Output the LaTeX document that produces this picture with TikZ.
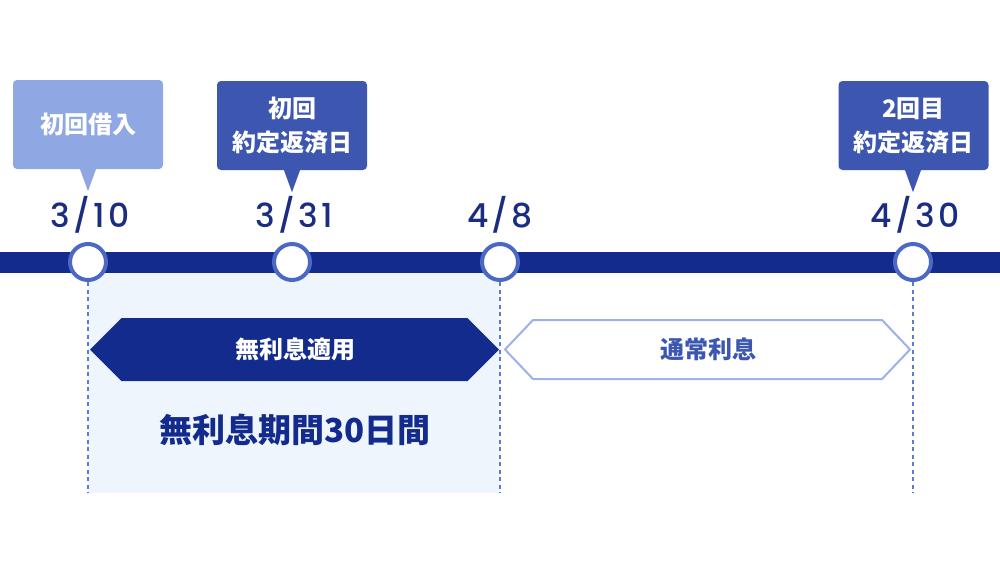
\documentclass[tikz,border=0pt]{standalone}
\usepackage{fontspec}
\newfontfamily\jpfont{Noto Sans CJK JP}
\newfontfamily\datefont{Poppins Medium}[LetterSpace=10]
\definecolor{navy}{RGB}{19,43,140}
\definecolor{datenavy}{RGB}{27,45,128}
\definecolor{ringblue}{RGB}{74,104,196}
\definecolor{boxlight}{RGB}{143,168,227}
\definecolor{boxdark}{RGB}{61,87,176}
\definecolor{shadeblue}{RGB}{238,245,253}
\definecolor{guideblue}{RGB}{91,124,214}
\definecolor{hexline}{RGB}{157,178,234}

\begin{document}
\begin{tikzpicture}[x=1pt, y=-1pt,
	dot/.style={circle, draw=ringblue, line width=4pt, fill=white, minimum size=36pt, inner sep=0pt},
	date/.style={font=\datefont\fontsize{33}{36}\selectfont, text=datenavy},
	callout/.style={rounded corners=4pt, minimum width=150pt, minimum height=89pt, align=center, text=white,
		font=\jpfont\bfseries\fontsize{24}{34}\selectfont},
	tag/.style={font=\jpfont\bfseries\fontsize{24}{28}\selectfont},
	guide/.style={guideblue, line width=2.5pt, dash pattern=on 4pt off 3.5pt}]
	\useasboundingbox[fill=white] (0,0) rectangle (1000,563);
	% free period and time line
	\fill[shadeblue] (88,262) rectangle (500,493);
	\draw[navy, line width=21pt] (0,262) -- (1000,262);
	\node[dot] (d1) at (88,262) {};
	\node[dot] (d2) at (292,262) {};
	\node[dot] (d3) at (500,262) {};
	\node[dot] (d4) at (913,262) {};
	\node[date] (t1) at (90,215) {3/10};
	\node[date] (t2) at (294,215) {3/31};
	\node[date] (t3) at (500,215) {4/8};
	\node[date] (t4) at (915,215) {4/30};
	% guides
	\coordinate (b1) at (88,493);
	\coordinate (b3) at (500,493);
	\coordinate (b4) at (913,493);
	\draw[guide] (d1.south) -- (b1);
	\draw[guide] (d3.south) -- (b3);
	\draw[guide] (d4.south) -- (b4);
	% callouts
	\node[callout, fill=boxlight] (c1) at (88,124.5) {初回借入};
	\node[callout, fill=boxdark] (c2) at (292,125.5) {初回\\約定返済日};
	\node[callout, fill=boxdark] (c4) at (913.5,125.5) {2回目\\約定返済日};
	\fill[boxlight] ([xshift=-8pt]c1.south) -- ++(8,22) -- ++(8,-22) -- cycle;
	\fill[boxdark] ([xshift=-8pt]c2.south) -- ++(8,22) -- ++(8,-22) -- cycle;
	\fill[boxdark] ([xshift=-8.5pt]c4.south) -- ++(8,22) -- ++(8,-22) -- cycle;
	% interest bands
	\fill[navy] (90,349.5) -- (121.5,318) -- (467.5,318) -- (499,349.5) -- (467.5,381) -- (121.5,381) -- cycle;
	\draw[hexline, line width=2pt, fill=white] (505,349.5) -- (533,320) -- (882,320) -- (910,349.5) -- (882,379) -- (533,379) -- cycle;
	\node[tag, text=white] (h1) at (295,349.5) {無利息適用};
	\node[tag, text=boxdark] (h2) at (708,349.5) {通常利息};
	\node[font=\jpfont\bfseries\fontsize{33}{36}\selectfont, text=navy] (free) at (295,430) {無利息期間30日間};
\end{tikzpicture}
\end{document}
